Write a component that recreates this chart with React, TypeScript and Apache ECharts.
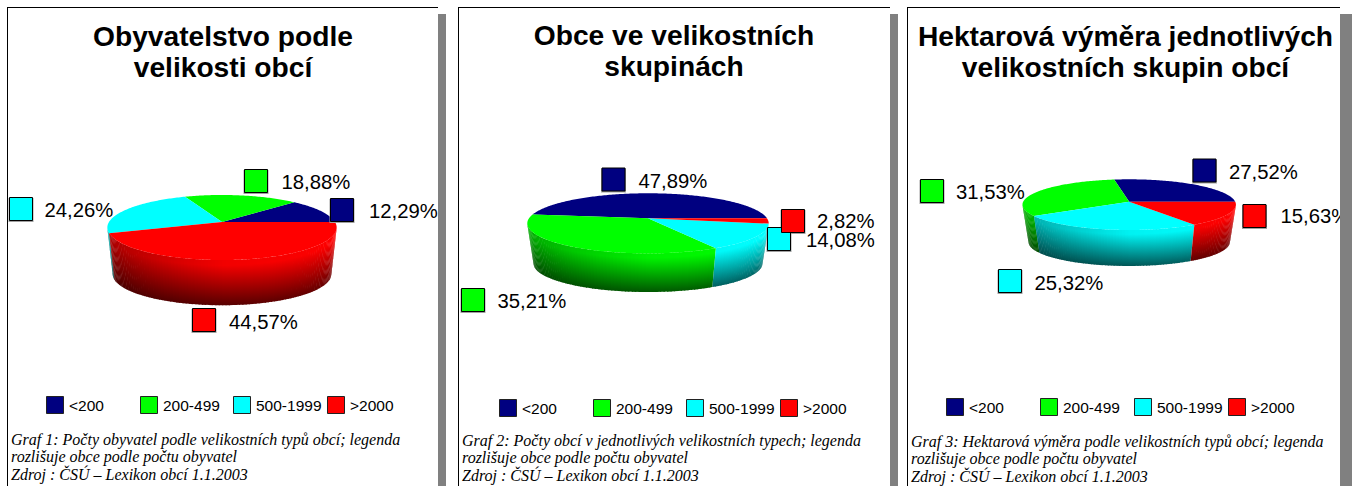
import React, { useEffect, useRef } from "react";
import * as echarts from "echarts";

const categories = ["<200", "200-499", "500-1999", ">2000"];
const colors = ["#000080", "#00ff00", "#00ffff", "#ff0000"];
const population = [12.29, 18.88, 24.26, 44.57];
const municipalities = [47.89, 35.21, 14.08, 2.82];
const hectares = [27.52, 31.53, 25.32, 15.63];
const titles = [
  "Obyvatelstvo podle\nvelikosti obcí",
  "Obce ve velikostních\nskupinách",
  "Hektarová výměra jednotlivých\nvelikostních skupin obcí",
];
const captions = [
  "Graf 1: Počty obyvatel podle velikostních typů obcí; legenda\nrozlišuje obce podle počtu obyvatel\nZdroj : ČSÚ – Lexikon obcí 1.1.2003",
  "Graf 2: Počty obcí v jednotlivých velikostních typech; legenda\nrozlišuje obce podle počtu obyvatel\nZdroj : ČSÚ – Lexikon obcí 1.1.2003",
  "Graf 3: Hektarová výměra podle velikostních typů obcí; legenda\nrozlišuje obce podle počtu obyvatel\nZdroj : ČSÚ – Lexikon obcí 1.1.2003",
];
const values = [population, municipalities, hectares];

// Layout only
const panels = [
  {
    left: 7, right: 438, barW: 8, titleX: 218, titleTop: 15, capX: 11, capTop: 430.5, legendY: 405,
    legendKeys: [46, 140, 233, 327],
    pie: { cx: 222, ay: 222, R: 113, r: 31.6, k: 0.169, s: 0.953, d: 47 },
    keys: [[330, 198], [244, 169], [9, 197], [192, 308]],
    texts: [[369, 211], [281.5, 182], [44.5, 209.5], [229, 322]],
  },
  {
    left: 458, right: 890, barW: 8, titleX: 669, titleTop: 14, capX: 462, capTop: 431.5, legendY: 408,
    legendKeys: [499, 593, 686, 780],
    pie: { cx: 648, ay: 218.3, R: 119, r: 29.2, k: 0.167, s: 0.948, d: 40.5 },
    keys: [[601.5, 167.5], [461, 288], [767, 227], [781, 209]],
    texts: [[638.5, 180.5], [497.5, 300.5], [806, 239.5], [817, 221]],
  },
  {
    left: 907, right: 1340, barW: 12, titleX: 1120.5, titleTop: 15, capX: 911, capTop: 432.5, legendY: 407,
    legendKeys: [946, 1040, 1134, 1228],
    pie: { cx: 1129.2, ay: 201.7, R: 106, r: 25, k: 0.116, s: 0.943, d: 37.6 },
    keys: [[1192.5, 158.5], [920, 179], [998, 269], [1242.5, 204]],
    texts: [[1229, 172], [956, 192], [1034.5, 282.5], [1280.5, 216]],
  },
];

const toRad = (deg: number) => (deg * Math.PI) / 180;

function scaleHex(hex: string, m: number) {
  const n = parseInt(hex.slice(1), 16);
  const c = [(n >> 16) & 255, (n >> 8) & 255, n & 255].map((v) => Math.round(v * m));
  return `rgb(${c[0]},${c[1]},${c[2]})`;
}

function project(p: any, deg: number, bottom: boolean) {
  const X = Math.cos(toRad(deg));
  const Y = Math.sin(toRad(deg));
  const w = 1 + p.k * Y;
  const s = bottom ? p.s : 1;
  return [p.cx + (p.R * s * X) / w, p.ay + (bottom ? p.d : 0) - (p.r * s * Y) / w];
}

function sliceRange(vals: number[], i: number) {
  const total = vals.reduce((a, b) => a + b, 0);
  const before = vals.slice(0, i).reduce((a, b) => a + b, 0);
  return [(before / total) * 360, ((before + vals[i]) / total) * 360];
}

function wallSeries(vals: number[], p: any) {
  // Only the part of the rim that faces the viewer under the perspective.
  const edge = (Math.asin(p.k) * 180) / Math.PI;
  return {
    type: "custom",
    coordinateSystem: "none",
    silent: true,
    z: 2,
    data: vals.map((v) => [v]),
    renderItem: (params: any) => {
      const [a, b0] = sliceRange(vals, params.dataIndex);
      const from = Math.max(a, 180 + edge);
      const b = Math.min(b0, 360 - edge);
      const children: any[] = [];
      const step = 1.5;
      for (let t = from; t < b; t += step) {
        const t2 = Math.min(t + step + 0.5, b);
        const X = Math.cos(toRad(t));
        const base = colors[params.dataIndex];
        const topM = X > 0 ? 0.95 + 0.05 * X : 0.95 + 0.3 * X;
        children.push({
          type: "polygon",
          shape: {
            points: [project(p, t, false), project(p, t2, false), project(p, t2, true), project(p, t, true)],
          },
          style: {
            fill: new echarts.graphic.LinearGradient(0, 0, 0, 1, [
              { offset: 0, color: scaleHex(base, topM) },
              { offset: 0.12, color: scaleHex(base, topM) },
              { offset: 1, color: scaleHex(base, 0.34 + 0.06 * X) },
            ]),
          },
        });
      }
      return { type: "group", children };
    },
  };
}

function topSeries(vals: number[], p: any) {
  return {
    type: "custom",
    coordinateSystem: "none",
    silent: true,
    z: 3,
    data: vals.map((v) => [v]),
    renderItem: (params: any) => {
      const [a, b] = sliceRange(vals, params.dataIndex);
      const points: number[][] = [[p.cx, p.ay]];
      for (let t = a; t < b; t += 1) points.push(project(p, t, false));
      points.push(project(p, b, false));
      return {
        type: "polygon",
        shape: { points },
        style: { fill: colors[params.dataIndex] },
      };
    },
  };
}

function buildGraphics() {
  const els: any[] = [];
  panels.forEach((panel, pi) => {
    // value keys and value labels
    values[pi].forEach((v, i) => {
      const [kx, ky] = panel.keys[i];
      els.push({ type: "rect", z: 10, shape: { x: kx - 0.5, y: ky + 1, width: 25, height: 24 }, style: { fill: "#a0a0a0" } });
      els.push({
        type: "rect", z: 11,
        shape: { x: kx + 0.5, y: ky + 0.5, width: 23, height: 23 },
        style: { fill: colors[i], stroke: "#000000", lineWidth: 1 },
      });
      const [tx, ty] = panel.texts[i];
      els.push({
        type: "text", z: 12, x: tx, y: ty,
        style: {
          text: v.toFixed(2).replace(".", ",") + "%",
          font: '20.3px "Liberation Sans"', fill: "#000000", verticalAlign: "middle",
        },
      });
    });
    // legend
    categories.forEach((c, i) => {
      const x = panel.legendKeys[i];
      els.push({
        type: "rect", z: 10,
        shape: { x: x + 0.5, y: panel.legendY - 8.5, width: 17, height: 17 },
        style: { fill: colors[i], stroke: "#222222", lineWidth: 1 },
      });
      els.push({
        type: "text", z: 10, x: x + 23, y: panel.legendY,
        style: { text: c, font: '15.5px "Liberation Sans"', fill: "#000000", verticalAlign: "middle" },
      });
    });
    // caption
    els.push({
      type: "text", z: 10, x: panel.capX, y: panel.capTop,
      style: {
        text: captions[pi], font: 'italic 16px "Liberation Serif"', fill: "#000000", lineHeight: 17.5,
        verticalAlign: "top",
      },
    });
    // frame
    els.push({ type: "rect", z: 20, shape: { x: panel.left, y: 7, width: 1, height: 479 }, style: { fill: "#000000" } });
    els.push({ type: "rect", z: 20, shape: { x: panel.left, y: 7, width: panel.right - panel.left, height: 1 }, style: { fill: "#000000" } });
    els.push({ type: "rect", z: 20, shape: { x: panel.right, y: 14, width: panel.barW, height: 472 }, style: { fill: "#808080" } });
  });
  return els;
}

export default function App() {
  const ref = useRef<HTMLDivElement>(null);
  useEffect(() => {
    document.body.style.margin = "0";
    const chart = echarts.init(ref.current!, undefined, { renderer: "svg" });
    chart.setOption({
      animation: false,
      backgroundColor: "#ffffff",
      title: panels.map((panel, i) => ({
        text: titles[i],
        left: panel.titleX,
        top: panel.titleTop,
        textAlign: "center",
        textStyle: {
          fontFamily: "Liberation Sans",
          fontWeight: "bold",
          fontSize: 28.2,
          lineHeight: 31.5,
          color: "#000000",
        },
      })),
      series: panels.flatMap((panel, i) => [wallSeries(values[i], panel.pie), topSeries(values[i], panel.pie)]),
      graphic: { elements: buildGraphics() },
    });
    return () => chart.dispose();
  }, []);
  return <div ref={ref} style={{ width: 1352, height: 486 }} />;
}
